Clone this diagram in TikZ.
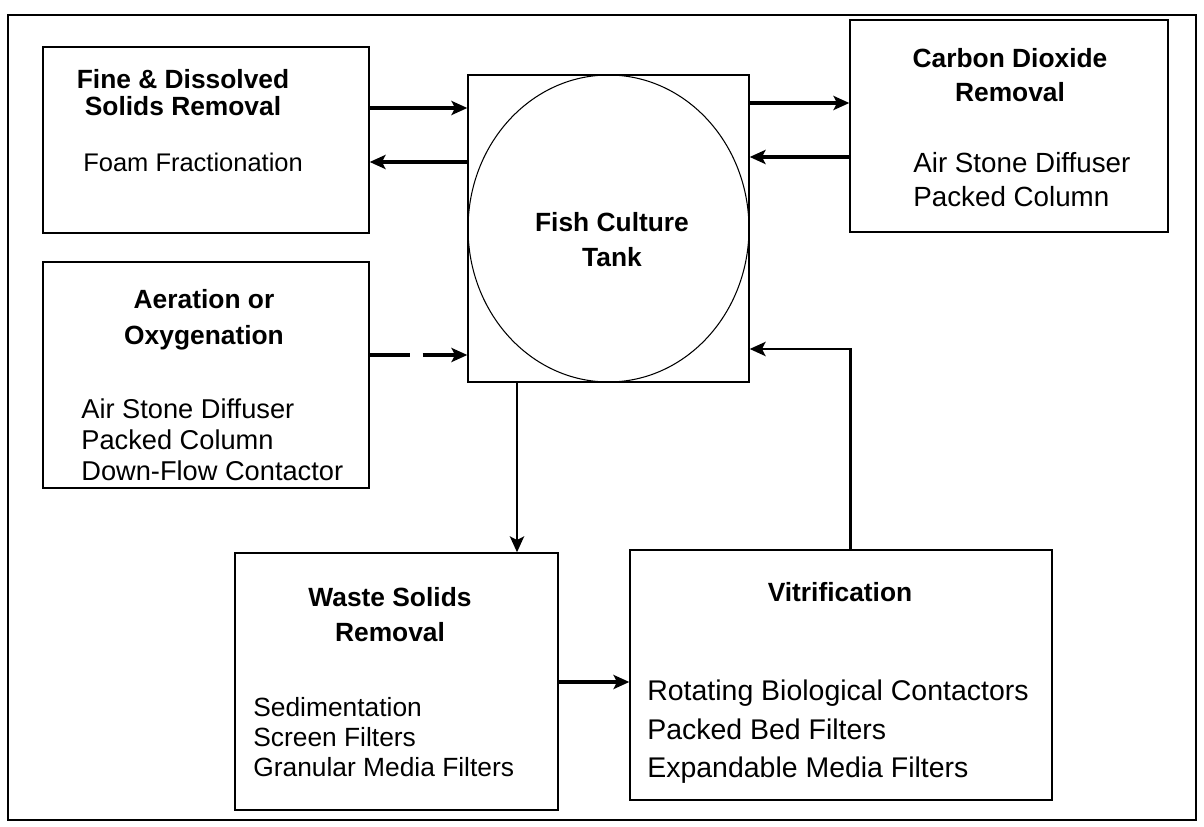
\documentclass[tikz,border=0pt]{standalone}
\usepackage{fontspec}
\setmainfont{Liberation Sans}
\usetikzlibrary{arrows.meta}

\begin{document}
\begin{tikzpicture}[x=0.02cm, y=-0.02cm,
  box/.style={draw, line width=0.8pt, inner sep=0pt},
  flow/.style={line width=2pt, -{Stealth[length=9pt, width=8pt, inset=2pt]}},
  title/.style={font=\bfseries\fontsize{15}{#1}\selectfont, align=center, inner sep=0pt},
  title/.default=18pt,
  items/.style 2 args={font=\fontsize{#1}{#2}\selectfont, align=left, anchor=west, inner sep=0pt}]
  \useasboundingbox[fill=white] (0,0) rectangle (1204,827);
  \draw[line width=1pt] (8,15) rectangle (1196,820);

  \node[box, minimum width=6.52cm, minimum height=3.72cm] (fine) at (206,140) {};
  \node[box, minimum width=6.52cm, minimum height=4.52cm] (aer) at (206,375) {};
  \node[box, minimum width=5.62cm, minimum height=6.14cm] (tank) at (608.5,228.5) {};
  \node[box, minimum width=6.36cm, minimum height=4.24cm] (co2) at (1009,126) {};
  \node[box, minimum width=6.46cm, minimum height=5.14cm] (waste) at (396.5,681.5) {};
  \node[box, minimum width=8.44cm, minimum height=5.00cm] (vitr) at (841,675) {};
  \draw[line width=0.6pt] (tank.center) ellipse (2.81cm and 3.07cm);

  \node[title=15.4pt] (finetitle) at (183,93) {Fine \& Dissolved\\Solids Removal};
  \node[items={14.5pt}{16pt}] (finelist) at (83,162) {Foam Fractionation};
  \node[title=20.5pt] (aertitle) at (204,320) {Aeration or\\Oxygenation};
  \node[items={15.5pt}{17.6pt}] (aerlist) at (81,440) {Air Stone Diffuser\\Packed Column\\Down-Flow Contactor};
  \node[title=20pt] (tanktitle) at (612,240) {Fish Culture\\Tank};
  \node[title=19.4pt] (co2title) at (1010,75) {Carbon Dioxide\\Removal};
  \node[items={15.8pt}{19.4pt}] (co2list) at (913,180) {Air Stone Diffuser\\Packed Column};
  \node[title=20pt] (wastetitle) at (390,615) {Waste Solids\\Removal};
  \node[items={15pt}{17pt}] (wastelist) at (253,737) {Sedimentation\\Screen Filters\\Granular Media Filters};
  \node[title] (vitrtitle) at (840,592) {Vitrification};
  \node[items={16.2pt}{21.9pt}] (vitrlist) at (647,732) {Rotating Biological Contactors\\Packed Bed Filters\\Expandable Media Filters};

  \draw[flow] (fine.east |- 0,108) -- (tank.west |- 0,108);
  \draw[flow] (tank.west |- 0,162) -- (fine.east |- 0,162);
  \draw[flow, dash pattern=on 0.8cm off 0.26cm] (aer.east |- 0,355) -- (tank.west |- 0,355);
  \draw[flow] (tank.east |- 0,103) -- (co2.west |- 0,103);
  \draw[flow] (co2.west |- 0,157) -- (tank.east |- 0,157);
  \draw[flow, line width=1.7pt] (tank.south -| 517,0) -- (waste.north -| 517,0);
  \draw[flow] (waste.east |- 0,682) -- (vitr.west |- 0,682);
  \draw[flow, line width=1.7pt] (vitr.north -| 850,0) |- (tank.east |- 0,349);
\end{tikzpicture}
\end{document}
